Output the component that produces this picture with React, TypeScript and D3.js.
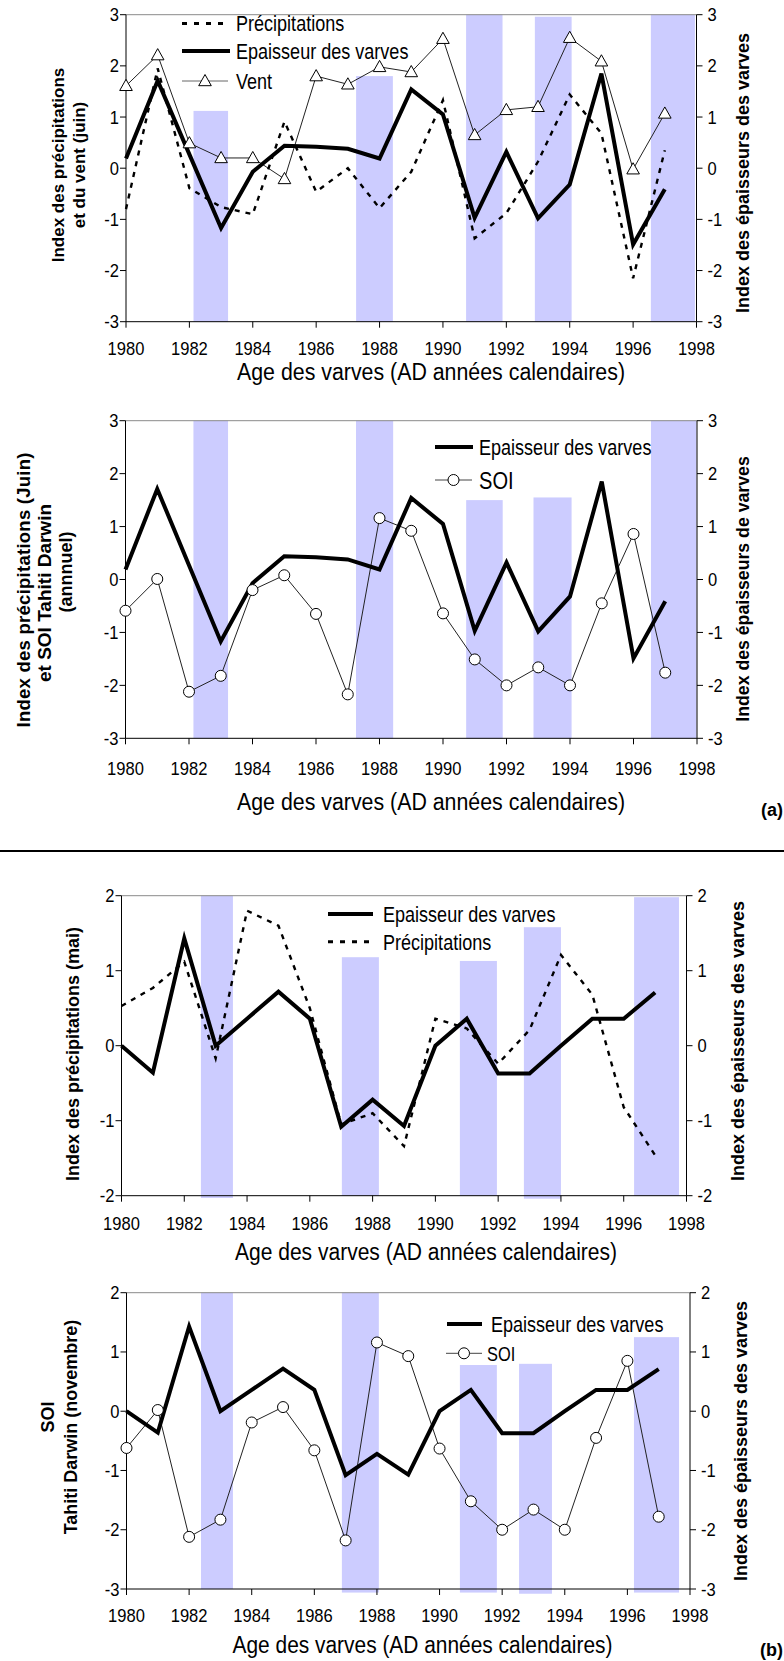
import React from 'react';
import * as d3 from 'd3';

// Calendar years of the varve record
const years = [1980, 1981, 1982, 1983, 1984, 1985, 1986, 1987, 1988, 1989, 1990, 1991, 1992, 1993, 1994, 1995, 1996, 1997];
const yearTicks = [1980, 1982, 1984, 1986, 1988, 1990, 1992, 1994, 1996, 1998];

// (a) June indices
const varveJune = [0.19, 1.71, 0.27, -1.17, -0.07, 0.44, 0.42, 0.38, 0.19, 1.54, 1.05, -0.97, 0.32, -0.98, -0.32, 1.85, -1.49, -0.41];
const precipJune = [-0.8, 1.95, -0.39, -0.76, -0.9, 0.91, -0.46, 0.0, -0.78, -0.07, 1.33, -1.37, -0.88, 0.13, 1.44, 0.68, -2.15, 0.35];
const windJune = [1.61, 2.21, 0.49, 0.2, 0.2, -0.21, 1.8, 1.64, 1.98, 1.88, 2.53, 0.65, 1.14, 1.2, 2.55, 2.09, -0.02, 1.07];
const soiAnnual = [-0.59, 0.01, -2.12, -1.82, -0.2, 0.08, -0.65, -2.17, 1.16, 0.92, -0.64, -1.51, -2.0, -1.66, -2.0, -0.45, 0.86, -1.76];

// (b) May / November indices
const varveMay = [0, -0.36, 1.43, 0, 0.36, 0.72, 0.36, -1.08, -0.72, -1.07, 0, 0.36, -0.37, -0.37, 0, 0.36, 0.36, 0.71];
const precipMay = [0.53, 0.77, 1.12, -0.17, 1.8, 1.6, 0.5, -1.05, -0.9, -1.34, 0.36, 0.23, -0.24, 0.21, 1.21, 0.68, -0.82, -1.46];
const soiNovember = [-0.62, 0.02, -2.12, -1.83, -0.19, 0.07, -0.66, -2.18, 1.16, 0.93, -0.63, -1.52, -2.0, -1.66, -2.0, -0.45, 0.85, -1.78];

// Shaded event years (start year, end year, top value, bottom value)
const shadeStartA1 = [1982.13, 1987.26, 1990.73, 1992.9, 1996.56];
const shadeEndA1 = [1983.22, 1988.42, 1991.88, 1994.06, 1997.95];
const shadeTopA1 = [1.12, 1.8, 3, 2.96, 3];
const shadeBottomA1 = [-3, -3, -3, -3, -3];

const shadeStartA2 = [1982.14, 1987.26, 1990.73, 1992.85, 1996.55];
const shadeEndA2 = [1983.23, 1988.43, 1991.88, 1994.05, 1997.98];
const shadeTopA2 = [3, 3, 1.5, 1.55, 3];
const shadeBottomA2 = [-3, -3, -3, -3, -3];

const shadeStartB1 = [1982.53, 1987.02, 1990.78, 1992.82, 1996.33];
const shadeEndB1 = [1983.55, 1988.2, 1991.96, 1994.0, 1997.76];
const shadeTopB1 = [2, 1.18, 1.13, 1.58, 1.98];
const shadeBottomB1 = [-2.03, -2, -2, -2.04, -2];

const shadeStartB2 = [1982.38, 1986.88, 1990.65, 1992.54, 1996.21];
const shadeEndB2 = [1983.4, 1988.06, 1991.83, 1993.59, 1997.65];
const shadeTopB2 = [2, 2, 0.78, 0.8, 1.25];
const shadeBottomB2 = [-3, -3.06, -3.06, -3.08, -3.06];

const FONT = "'Liberation Sans', Arial, Helvetica, sans-serif";
const SHADE = '#CCCCFF';

type Series = { values: number[]; kind: 'thick' | 'dashed' | 'triangle' | 'circle' };
type TitleLine = { text: string; x: number; y: number; size: number; length?: number };

type PanelProps = {
  left: number; right: number; top: number; bottom: number;
  yMin: number; yMax: number; yTicks: number[];
  shadeStart: number[]; shadeEnd: number[]; shadeTop: number[]; shadeBottom: number[];
  series: Series[];
  leftTitle: TitleLine[]; rightTitle: TitleLine[];
  xTitle: { x: number; y: number; length: number };
  tickLabelY: number;
};

const triPath = 'M0,-6.5L6.3,4.7L-6.3,4.7Z';

// Condensed sans text: the regular face squeezed horizontally
function NText({ x, y, size, anchor = 'start', squeeze = 0.82, children }: { x: number; y: number; size: number; anchor?: string; squeeze?: number; children: React.ReactNode }) {
  return (
    <text transform={`translate(${x},${y}) scale(${squeeze},1)`} textAnchor={anchor} fontSize={size} fontFamily={FONT}>
      {children}
    </text>
  );
}

function Panel(p: PanelProps) {
  const x = d3.scaleLinear().domain([1980, 1998]).range([p.left, p.right]);
  const y = d3.scaleLinear().domain([p.yMin, p.yMax]).range([p.bottom, p.top]);
  const line = d3.line<number>().x((_, i) => x(years[i])).y((v) => y(v));
  return (
    <g>
      {p.shadeStart.map((s, i) => (
        <rect key={'s' + i} x={x(s)} width={x(p.shadeEnd[i]) - x(s)} y={y(p.shadeTop[i])}
          height={y(p.shadeBottom[i]) - y(p.shadeTop[i])} fill={SHADE} />
      ))}
      {/* frame */}
      <line x1={p.left} x2={p.right} y1={p.top} y2={p.top} stroke="#8a8a8a" strokeWidth={1} />
      <line x1={p.left} x2={p.left} y1={p.top} y2={p.bottom} stroke="#000" strokeWidth={1} />
      <line x1={p.right} x2={p.right} y1={p.top} y2={p.bottom} stroke="#000" strokeWidth={1} />
      <line x1={p.left} x2={p.right} y1={p.bottom} y2={p.bottom} stroke="#000" strokeWidth={1} />
      {p.yTicks.map((t) => (
        <g key={'yt' + t}>
          <line x1={p.left - 6} x2={p.left} y1={y(t)} y2={y(t)} stroke="#000" />
          <line x1={p.right} x2={p.right + 6} y1={y(t)} y2={y(t)} stroke="#000" />
          <NText x={p.left - 7} y={y(t) + 6.5} size={18} squeeze={0.92} anchor="end">{t}</NText>
          <NText x={p.right + 11} y={y(t) + 6.5} size={18} squeeze={0.92}>{t}</NText>
        </g>
      ))}
      {yearTicks.map((t) => (
        <g key={'xt' + t}>
          <line x1={x(t)} x2={x(t)} y1={p.bottom} y2={p.bottom + 6} stroke="#000" />
          <NText x={x(t)} y={p.tickLabelY} size={18} squeeze={0.92} anchor="middle">{t}</NText>
        </g>
      ))}
      <text x={p.xTitle.x} y={p.xTitle.y} textAnchor="middle" fontSize={23} fontFamily={FONT}
        textLength={p.xTitle.length} lengthAdjust="spacingAndGlyphs">Age des varves (AD années calendaires)</text>
      {[...p.leftTitle, ...p.rightTitle].map((t, i) => (
        <text key={'tt' + i} transform={`translate(${t.x},${t.y}) rotate(-90)`} textAnchor="middle"
          fontSize={t.size} fontWeight="bold" fontFamily={FONT}
          {...(t.length ? { textLength: t.length, lengthAdjust: 'spacing' } : {})}>{t.text}</text>
      ))}
      {p.series.map((s, i) => {
        if (s.kind === 'dashed')
          return <path key={'l' + i} d={line(s.values) || ''} fill="none" stroke="#000" strokeWidth={2.4} strokeDasharray="5 6" />;
        if (s.kind === 'thick')
          return <path key={'l' + i} d={line(s.values) || ''} fill="none" stroke="#000" strokeWidth={4} strokeLinejoin="miter" />;
        return <path key={'l' + i} d={line(s.values) || ''} fill="none" stroke="#222" strokeWidth={1} />;
      })}
      {p.series.map((s, i) => {
        if (s.kind === 'triangle')
          return s.values.map((v, j) => (
            <path key={'m' + i + '-' + j} d={triPath} transform={`translate(${x(years[j])},${y(v)})`} fill="#fff" stroke="#000" strokeWidth={1} />
          ));
        if (s.kind === 'circle')
          return s.values.map((v, j) => (
            <circle key={'m' + i + '-' + j} cx={x(years[j])} cy={y(v)} r={5.5} fill="#fff" stroke="#000" strokeWidth={1} />
          ));
        return null;
      })}
    </g>
  );
}

function LegendEntry({ kind, x1, x2, y, tx, label, size }: { kind: string; x1: number; x2: number; y: number; tx: number; label: string; size: number }) {
  const mid = (x1 + x2) / 2;
  return (
    <g>
      {kind === 'thick' && <line x1={x1} x2={x2} y1={y} y2={y} stroke="#000" strokeWidth={4} />}
      {kind === 'dashed' && <line x1={x1} x2={x2} y1={y} y2={y} stroke="#000" strokeWidth={3} strokeDasharray="5 7" />}
      {kind === 'triangle' && (
        <g>
          <line x1={x1} x2={x2} y1={y} y2={y} stroke="#666" strokeWidth={1} />
          <path d={triPath} transform={`translate(${mid},${y})`} fill="#fff" stroke="#000" />
        </g>
      )}
      {kind === 'circle' && (
        <g>
          <line x1={x1} x2={x2} y1={y} y2={y} stroke="#444" strokeWidth={1} />
          <circle cx={mid} cy={y} r={5.5} fill="#fff" stroke="#000" />
        </g>
      )}
      <NText x={tx} y={y + size * 0.36} size={size}>{label}</NText>
    </g>
  );
}

export default function App() {
  return (
    <svg width={784} height={1661} style={{ position: 'absolute', left: 0, top: 0, background: '#fff' }}>
      <rect x={0} y={0} width={784} height={1661} fill="#fff" />

      {/* (a) upper: precipitation, varves, wind */}
      <Panel left={126} right={696.5} top={14.7} bottom={321.7} yMin={-3} yMax={3} yTicks={[-3, -2, -1, 0, 1, 2, 3]}
        shadeStart={shadeStartA1} shadeEnd={shadeEndA1} shadeTop={shadeTopA1} shadeBottom={shadeBottomA1}
        series={[{ values: windJune, kind: 'triangle' }, { values: precipJune, kind: 'dashed' }, { values: varveJune, kind: 'thick' }]}
        leftTitle={[
          { text: 'Index des précipitations', x: 64, y: 165, size: 17 },
          { text: 'et du vent (juin)', x: 84.5, y: 165, size: 17 },
        ]}
        rightTitle={[{ text: 'Index des épaisseurs des varves', x: 748.5, y: 173, size: 18 }]}
        xTitle={{ x: 431, y: 380, length: 388 }} tickLabelY={355.4} />
      <LegendEntry kind="dashed" x1={182} x2={230} y={23.5} tx={236} label="Précipitations" size={22} />
      <LegendEntry kind="thick" x1={182} x2={230} y={51} tx={236} label="Epaisseur des varves" size={22} />
      <LegendEntry kind="triangle" x1={182} x2={228} y={81} tx={236} label="Vent" size={22} />

      {/* (a) lower: varves and annual SOI */}
      <Panel left={125.5} right={697} top={420.7} bottom={738.3} yMin={-3} yMax={3} yTicks={[-3, -2, -1, 0, 1, 2, 3]}
        shadeStart={shadeStartA2} shadeEnd={shadeEndA2} shadeTop={shadeTopA2} shadeBottom={shadeBottomA2}
        series={[{ values: soiAnnual, kind: 'circle' }, { values: varveJune, kind: 'thick' }]}
        leftTitle={[
          { text: 'Index des précipitations (Juin)', x: 29.5, y: 590, size: 18.5, length: 275 },
          { text: 'et SOI Tahiti Darwin', x: 51, y: 593, size: 19 },
          { text: '(annnuel)', x: 72, y: 572, size: 18 },
        ]}
        rightTitle={[{ text: 'Index des épaisseurs de varves', x: 749, y: 589, size: 17.7 }]}
        xTitle={{ x: 431, y: 810, length: 388 }} tickLabelY={774.5} />
      <LegendEntry kind="thick" x1={435} x2={473} y={447} tx={479} label="Epaisseur des varves" size={22} />
      <LegendEntry kind="circle" x1={435} x2={472} y={480} tx={479} label="SOI" size={24.5} />
      <text x={783} y={816} textAnchor="end" fontSize={18} fontWeight="bold" fontFamily={FONT}>(a)</text>

      <line x1={0} x2={784} y1={851} y2={851} stroke="#000" strokeWidth={2} />

      {/* (b) upper: varves and May precipitation */}
      <Panel left={121.5} right={686.5} top={895.7} bottom={1195.7} yMin={-2} yMax={2} yTicks={[-2, -1, 0, 1, 2]}
        shadeStart={shadeStartB1} shadeEnd={shadeEndB1} shadeTop={shadeTopB1} shadeBottom={shadeBottomB1}
        series={[{ values: precipMay, kind: 'dashed' }, { values: varveMay, kind: 'thick' }]}
        leftTitle={[{ text: 'Index des précipitations (mai)', x: 78.5, y: 1054, size: 18 }]}
        rightTitle={[{ text: 'Index des épaisseurs des varves', x: 744, y: 1041, size: 18 }]}
        xTitle={{ x: 426, y: 1260, length: 382 }} tickLabelY={1229.5} />
      <LegendEntry kind="thick" x1={328} x2={373} y={914} tx={383} label="Epaisseur des varves" size={22} />
      <LegendEntry kind="dashed" x1={328} x2={372} y={941.7} tx={383} label="Précipitations" size={22} />

      {/* (b) lower: varves and November SOI */}
      <Panel left={126.5} right={690} top={1292.7} bottom={1589} yMin={-3} yMax={2} yTicks={[-3, -2, -1, 0, 1, 2]}
        shadeStart={shadeStartB2} shadeEnd={shadeEndB2} shadeTop={shadeTopB2} shadeBottom={shadeBottomB2}
        series={[{ values: soiNovember, kind: 'circle' }, { values: varveMay, kind: 'thick' }]}
        leftTitle={[
          { text: 'SOI', x: 54, y: 1417, size: 18 },
          { text: 'Tahiti Darwin (novembre)', x: 76.5, y: 1427, size: 18 },
        ]}
        rightTitle={[{ text: 'Index des épaisseurs des varves', x: 746.5, y: 1441, size: 18 }]}
        xTitle={{ x: 422.5, y: 1653, length: 380 }} tickLabelY={1621.5} />
      <LegendEntry kind="thick" x1={447} x2={482} y={1324} tx={491} label="Epaisseur des varves" size={22} />
      <LegendEntry kind="circle" x1={446} x2={482} y={1353.3} tx={487} label="SOI" size={20} />
      <text x={783} y={1656} textAnchor="end" fontSize={18} fontWeight="bold" fontFamily={FONT}>(b)</text>
    </svg>
  );
}
